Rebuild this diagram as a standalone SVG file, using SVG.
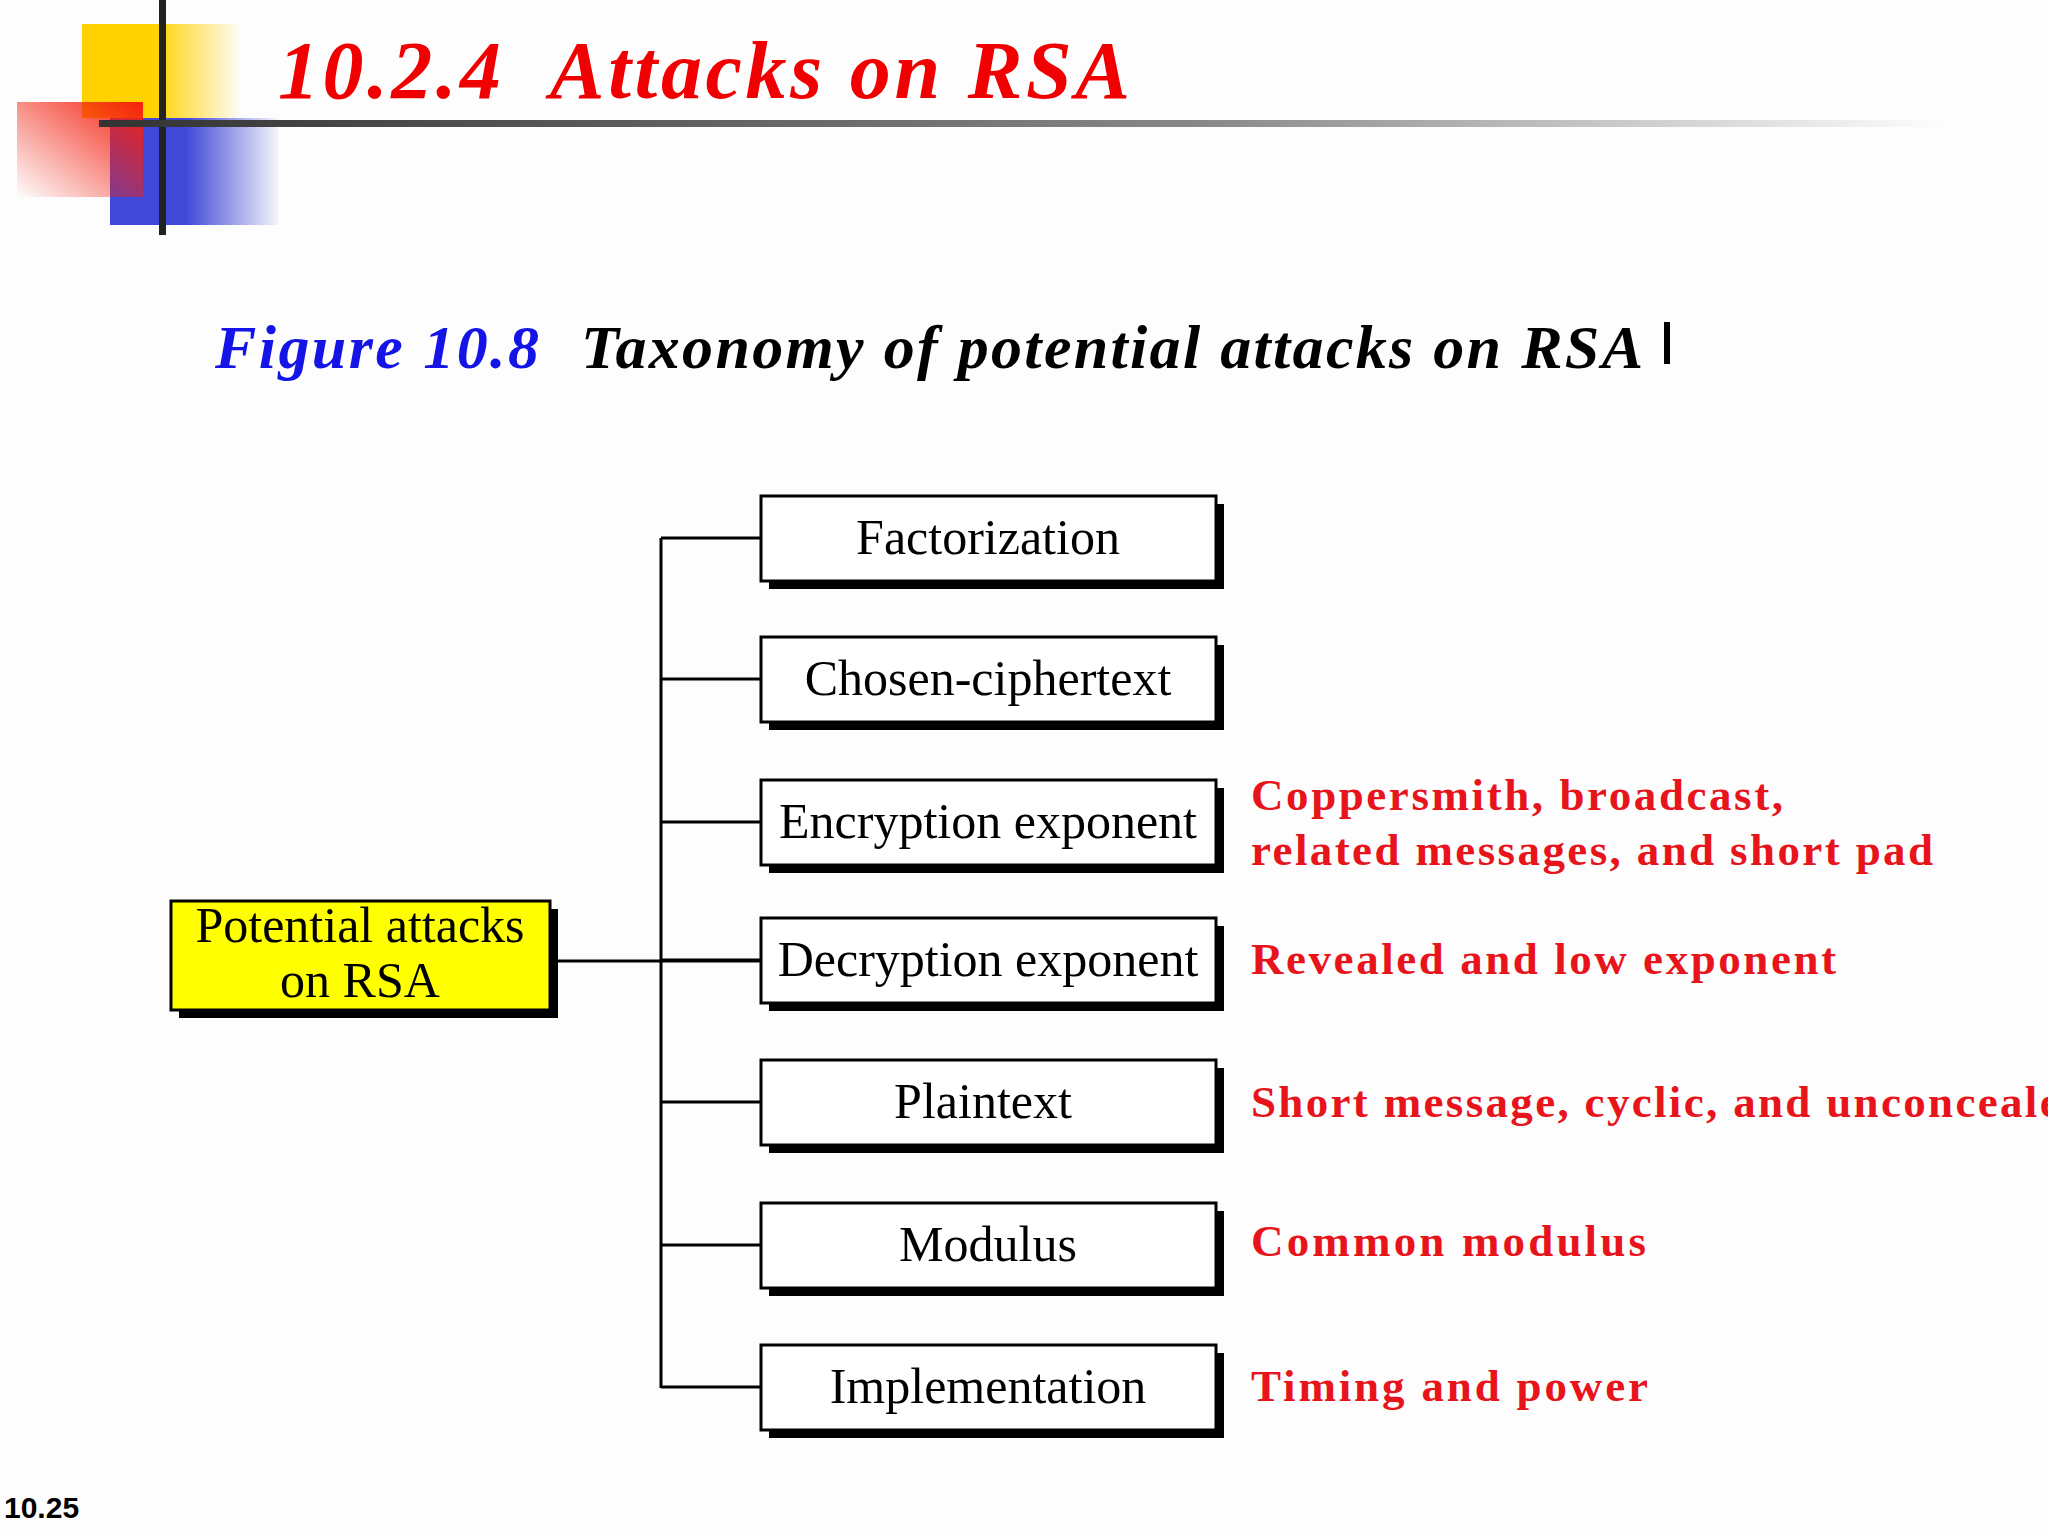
<svg xmlns="http://www.w3.org/2000/svg" width="2048" height="1536" viewBox="0 0 2048 1536">
<defs>
<linearGradient id="gy" x1="0" x2="1" y1="0" y2="0"><stop offset="0.45" stop-color="#ffd200"/><stop offset="1" stop-color="#ffd200" stop-opacity="0"/></linearGradient>
<linearGradient id="gb" x1="0" x2="1" y1="0" y2="0"><stop offset="0.45" stop-color="#4048d8"/><stop offset="1" stop-color="#4048d8" stop-opacity="0.05"/></linearGradient>
<linearGradient id="gr" x1="1" y1="0" x2="0" y2="1"><stop offset="0" stop-color="#f42010"/><stop offset="1" stop-color="#f42010" stop-opacity="0"/></linearGradient>
<linearGradient id="gl" x1="0" x2="1" y1="0" y2="0"><stop offset="0" stop-color="#333"/><stop offset="0.6" stop-color="#888"/><stop offset="1" stop-color="#888" stop-opacity="0"/></linearGradient>
<style>
.box{fill:#fff;stroke:#000;stroke-width:3}
.sh{fill:#000}
.bt{font-family:"Liberation Serif",serif;font-size:50px;text-anchor:middle;fill:#000}
.rl{font-family:"Liberation Serif",serif;font-size:45px;font-weight:bold;fill:#e8141c}
.ln{stroke:#000;stroke-width:3;fill:none}
</style>
</defs>
<rect width="2048" height="1536" fill="#fdfdfd"/>
<rect x="82" y="24" width="160" height="94" fill="url(#gy)"/>
<rect x="110" y="118" width="168" height="107" fill="url(#gb)"/>
<rect x="17" y="102" width="126" height="95" fill="url(#gr)"/>
<rect x="159" y="0" width="7" height="235" fill="#222"/>
<rect x="99" y="120" width="1843" height="7" fill="url(#gl)"/>
<text x="278" y="98" font-family="Liberation Serif,serif" font-size="82" font-weight="bold" font-style="italic" fill="#f00000" textLength="852" xml:space="preserve">10.2.4  Attacks on RSA</text>
<text x="215" y="368" font-family="Liberation Serif,serif" font-size="62" font-weight="bold" font-style="italic" fill="#1414e6" textLength="324">Figure 10.8</text>
<text x="581" y="368" font-family="Liberation Serif,serif" font-size="62" font-weight="bold" font-style="italic" fill="#000" textLength="1062">Taxonomy of potential attacks on RSA</text>
<rect x="1664" y="322" width="6" height="42" fill="#000"/>
<g id="connectors">
<path class="ln" d="M661 538V1388M550 961H761M661 538H761M661 679H761M661 822H761M661 960H761M661 1102H761M661 1245H761M661 1387H761"/>
</g>
<g id="root"><rect x="179" y="909" width="379" height="109" class="sh"/><rect x="171" y="901" width="379" height="109" fill="#ffff00" stroke="#000" stroke-width="3"/><text class="bt" x="360" y="942">Potential attacks</text><text class="bt" x="360" y="997">on RSA</text></g>
<g id="n1"><rect x="769" y="504" width="455" height="85" class="sh"/><rect x="761" y="496" width="455" height="85" class="box"/><text class="bt" x="988" y="554">Factorization</text></g>
<g id="n2"><rect x="769" y="645" width="455" height="85" class="sh"/><rect x="761" y="637" width="455" height="85" class="box"/><text class="bt" x="988" y="695">Chosen-ciphertext</text></g>
<g id="n3"><rect x="769" y="788" width="455" height="85" class="sh"/><rect x="761" y="780" width="455" height="85" class="box"/><text class="bt" x="988" y="838">Encryption exponent</text></g>
<g id="n4"><rect x="769" y="926" width="455" height="85" class="sh"/><rect x="761" y="918" width="455" height="85" class="box"/><text class="bt" x="988" y="976">Decryption exponent</text></g>
<g id="n5"><rect x="769" y="1068" width="455" height="85" class="sh"/><rect x="761" y="1060" width="455" height="85" class="box"/><text class="bt" x="983" y="1118">Plaintext</text></g>
<g id="n6"><rect x="769" y="1211" width="455" height="85" class="sh"/><rect x="761" y="1203" width="455" height="85" class="box"/><text class="bt" x="988" y="1261">Modulus</text></g>
<g id="n7"><rect x="769" y="1353" width="455" height="85" class="sh"/><rect x="761" y="1345" width="455" height="85" class="box"/><text class="bt" x="988" y="1403">Implementation</text></g>
<g id="labels">
<text class="rl" x="1251" y="810" textLength="532">Coppersmith, broadcast,</text>
<text class="rl" x="1251" y="865" textLength="682">related messages, and short pad</text>
<text class="rl" x="1251" y="974" textLength="585">Revealed and low exponent</text>
<text class="rl" x="1251" y="1117" textLength="836">Short message, cyclic, and unconcealed</text>
<text class="rl" x="1251" y="1256" textLength="395">Common modulus</text>
<text class="rl" x="1251" y="1401" textLength="397">Timing and power</text>
</g>
<text x="4" y="1518" font-family="Liberation Sans,sans-serif" font-size="30" font-weight="bold" fill="#000">10.25</text>
</svg>
